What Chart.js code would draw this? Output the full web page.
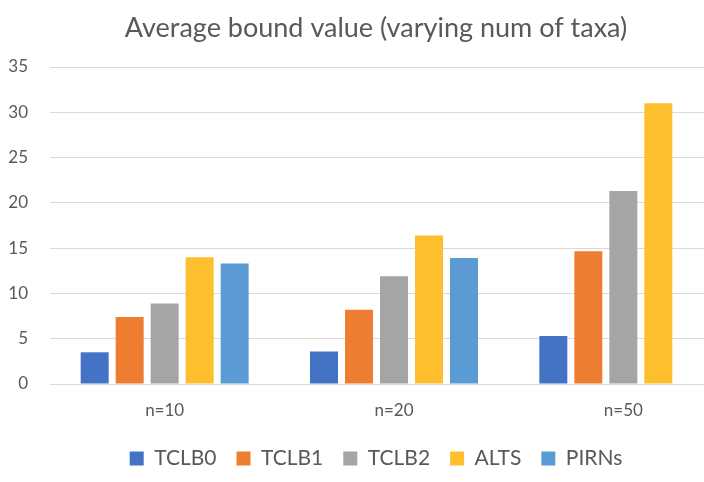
<!DOCTYPE html>
<html>
<head>
<meta charset="utf-8">
<script src="https://cdn.jsdelivr.net/npm/chart.js@4"></script>
<style>
  html, body { margin: 0; padding: 0; background: #fff; overflow: hidden; }
  #wrap { width: 704px; height: 482px; overflow: hidden; }
</style>
</head>
<body>
<div id="wrap"><canvas id="bar-chart" width="752" height="482"></canvas></div>
<script>
const categories = ['n=10', 'n=20', 'n=50'];
const tclb0 = [3.5, 3.6, 5.3];
const tclb1 = [7.4, 8.2, 14.65];
const tclb2 = [8.9, 11.9, 21.3];
const alts = [14.0, 16.4, 31.0];
const pirns = [13.3, 13.9, null];

const textColor = '#595959';
const fontFamily = 'Lato, "Open Sans", sans-serif';

const ctx = document.getElementById('bar-chart');

new Chart(ctx, {
  type: 'bar',
  data: {
    labels: categories,
    datasets: [
      { label: 'TCLB0', data: tclb0, backgroundColor: '#4472C4' },
      { label: 'TCLB1', data: tclb1, backgroundColor: '#ED7D31' },
      { label: 'TCLB2', data: tclb2, backgroundColor: '#A5A5A5' },
      { label: 'ALTS', data: alts, backgroundColor: '#FDBF2D' },
      { label: 'PIRNs', data: pirns, backgroundColor: '#5B9BD5' }
    ]
  },
  options: {
    responsive: false,
    animation: false,
    categoryPercentage: 0.763,
    barPercentage: 0.8,
    layout: {
      padding: { left: 0, right: 0, top: 12, bottom: 3 }
    },
    plugins: {
      title: {
        display: true,
        text: 'Average bound value (varying num of taxa)',
        color: textColor,
        font: { family: fontFamily, size: 27, weight: 'normal' },
        padding: { top: 0, bottom: 22.6 }
      },
      legend: {
        position: 'bottom',
        labels: {
          color: textColor,
          font: { family: fontFamily, size: 21 },
          boxWidth: 14,
          boxHeight: 14,
          padding: 20
        }
      },
      tooltip: { enabled: false }
    },
    scales: {
      x: {
        grid: { display: false },
        border: { color: '#d9d9d9' },
        ticks: {
          color: textColor,
          font: { family: fontFamily, size: 17 },
          padding: 8
        },
        afterFit: (scale) => { scale.height = 44; }
      },
      y: {
        min: 0,
        max: 35,
        ticks: {
          stepSize: 5,
          color: textColor,
          font: { family: fontFamily, size: 17 },
          padding: 22
        },
        grid: {
          color: '#d9d9d9',
          drawTicks: false
        },
        border: { display: false },
        afterFit: (scale) => { scale.width = 50; }
      },
      // empty right-hand spacer so the plot stops short of the canvas edge
      y2: {
        position: 'right',
        min: 0,
        max: 35,
        grid: { display: false },
        ticks: { display: false },
        border: { display: false },
        afterFit: (scale) => { scale.width = 14; }
      }
    }
  }
});
</script>
</body>
</html>
